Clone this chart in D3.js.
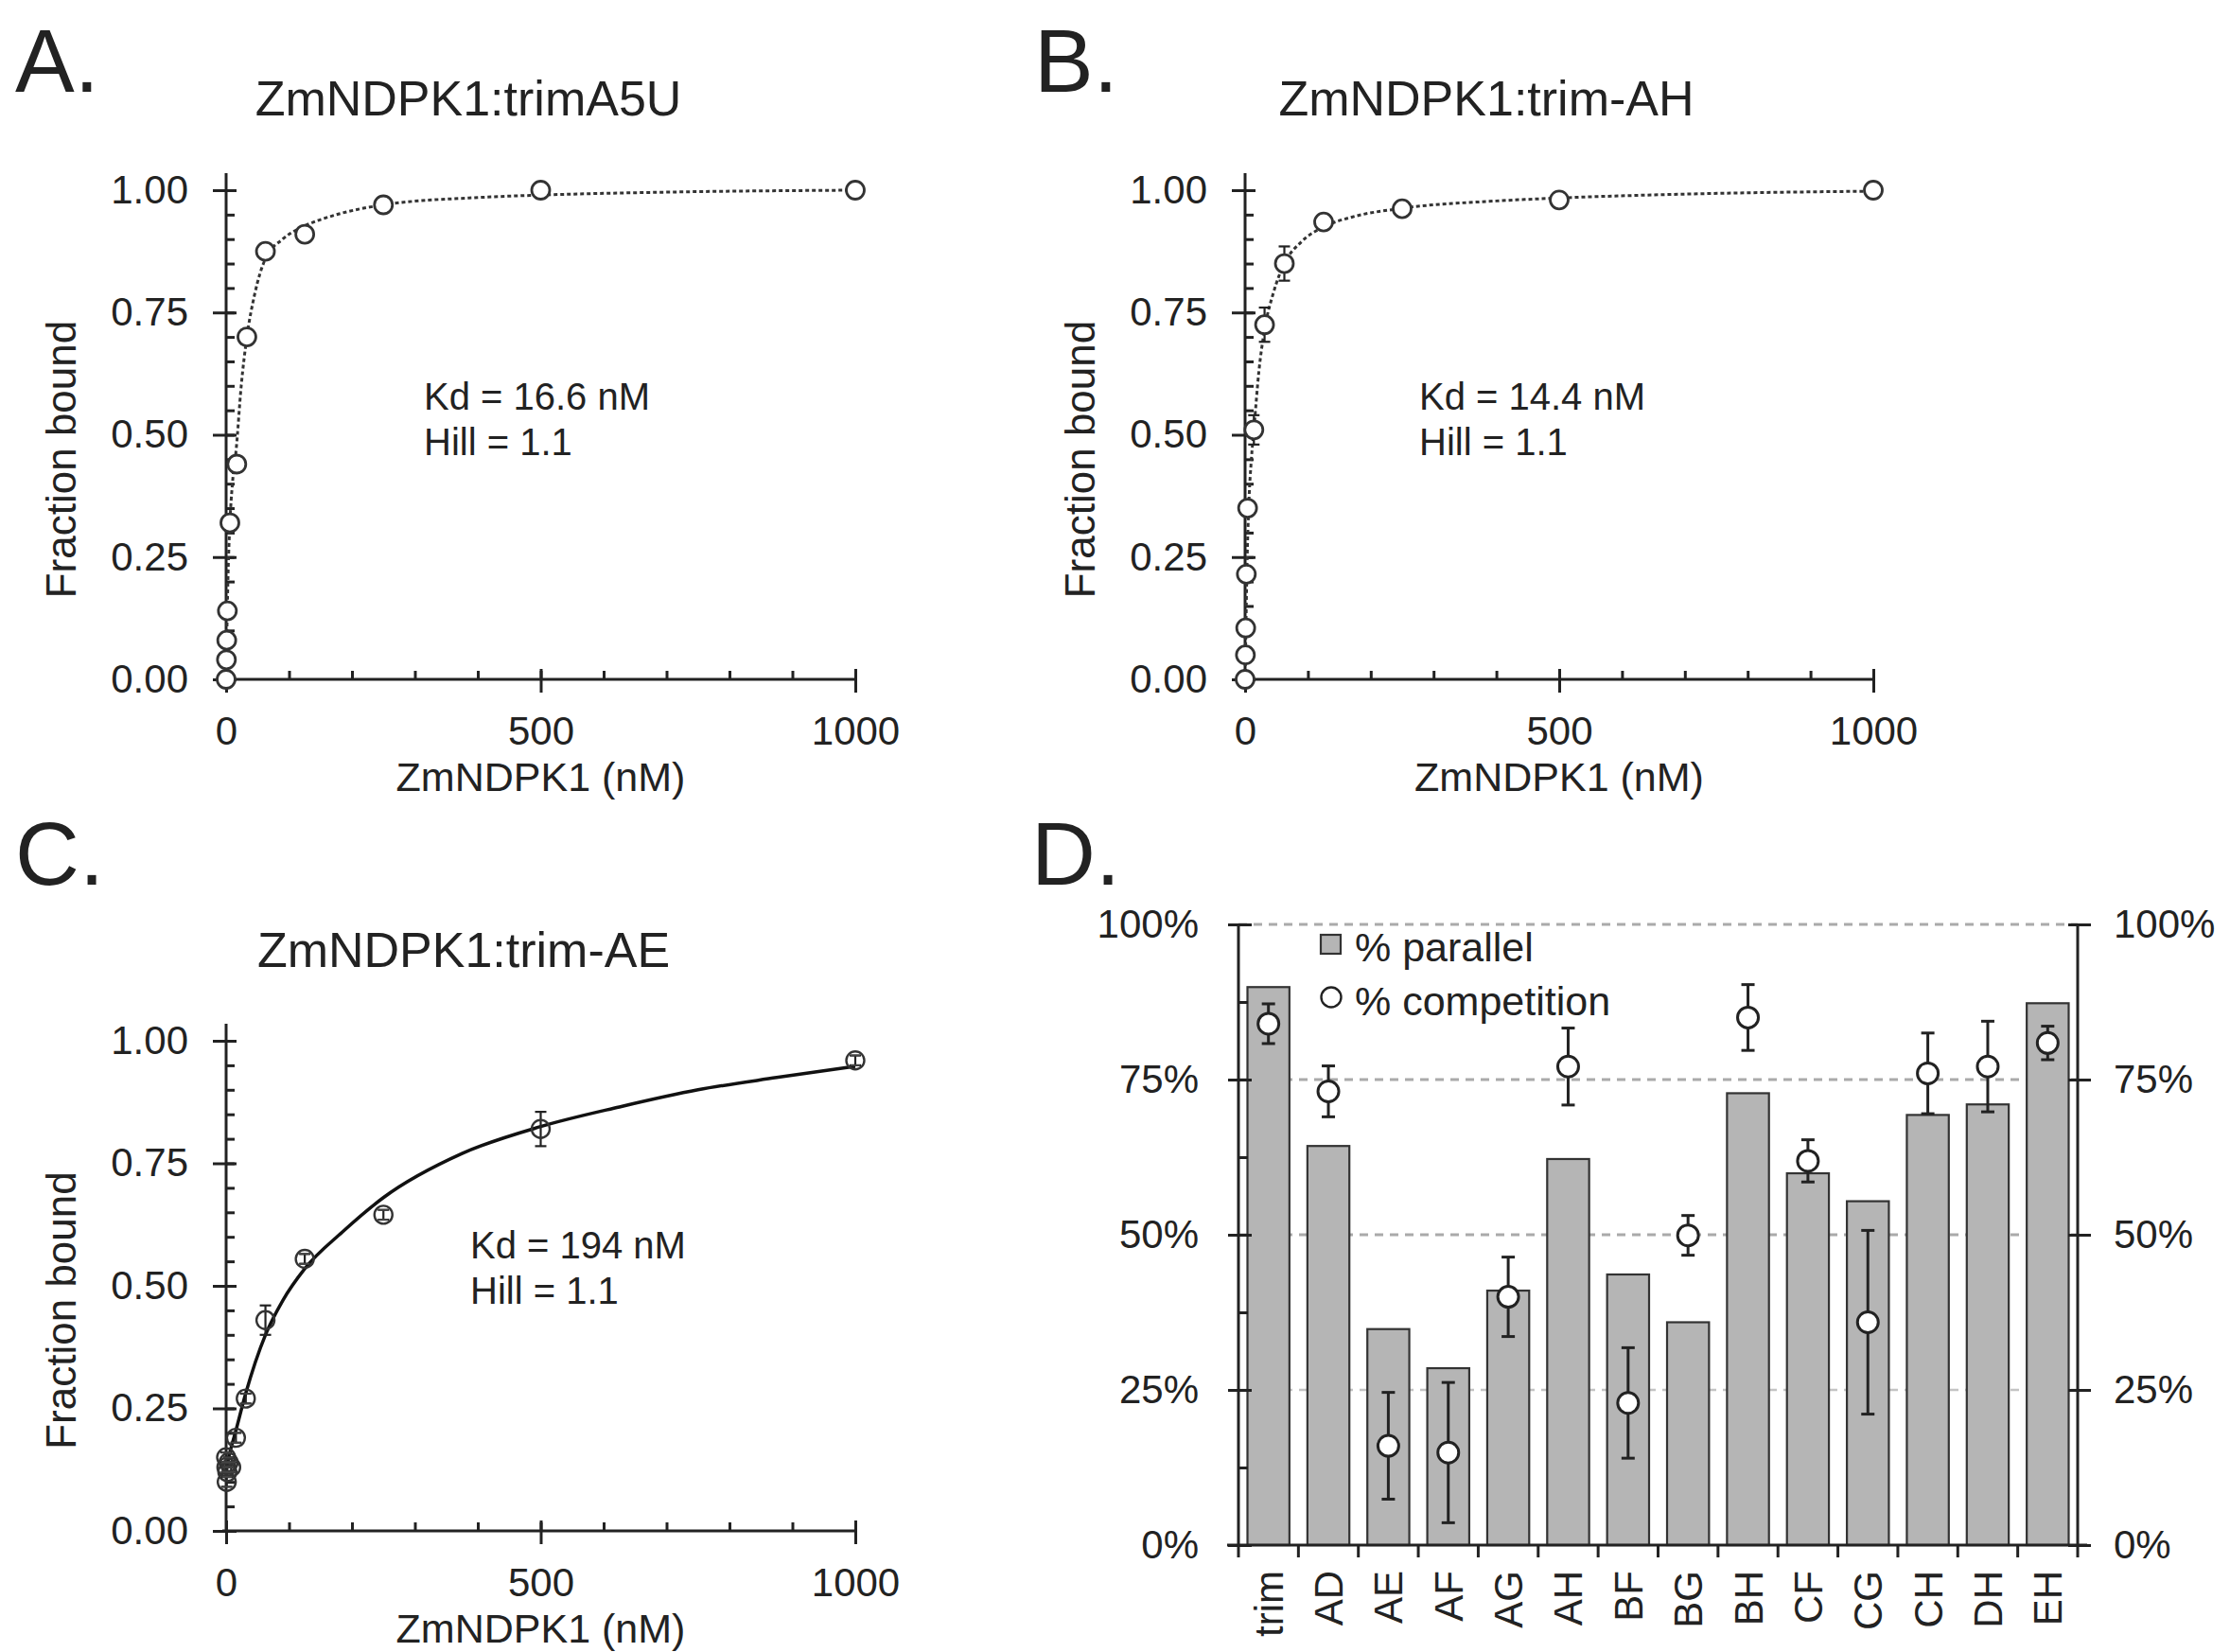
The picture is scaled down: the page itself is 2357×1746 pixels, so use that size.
<!DOCTYPE html>
<html><head><meta charset="utf-8">
<script src="https://cdn.jsdelivr.net/npm/d3@7"></script>
<style>
body{margin:0;background:#fff}
svg text{font-family:"Liberation Sans",Arial,Helvetica,sans-serif;fill:#222}
</style>
</head><body>
<svg id="chart" width="2357" height="1746"></svg>
<script>
// ---------- DATA ----------
const bindTicks = [0, 0.25, 0.5, 0.75, 1.0];
const concTicks = [0, 500, 1000];

// Panel A: ZmNDPK1:trimA5U
const concA = [0, 0.5, 1, 2, 6, 17, 33, 62.5, 125, 250, 500, 1000];
const boundA = [0, 0.04, 0.08, 0.14, 0.32, 0.44, 0.70, 0.875, 0.91, 0.97, 1.0, 1.0];
const errA = [0, 0, 0, 0, 0, 0, 0, 0, 0, 0, 0, 0];
const fitA_x = [0, 1, 3, 6, 10, 16, 24, 33, 45, 62.5, 90, 125, 170, 250, 400, 500, 700, 1000];
const fitA_y = [0, 0.08, 0.21, 0.32, 0.40, 0.47, 0.60, 0.70, 0.785, 0.86, 0.90, 0.927, 0.948, 0.97, 0.985, 0.99, 0.996, 1.0];

// Panel B: ZmNDPK1:trim-AH
const concB = [0, 0.5, 1, 2, 4, 14, 31, 62.5, 125, 250, 500, 1000];
const boundB = [0, 0.05, 0.105, 0.215, 0.35, 0.51, 0.725, 0.85, 0.935, 0.962, 0.98, 1.0];
const errB = [0, 0, 0, 0, 0, 0.03, 0.035, 0.035, 0.01, 0, 0.005, 0];
const fitB_x = [0, 1, 3, 6, 10, 14, 22, 31, 45, 62.5, 90, 125, 170, 250, 400, 500, 700, 1000];
const fitB_y = [0, 0.08, 0.23, 0.36, 0.45, 0.51, 0.63, 0.715, 0.79, 0.85, 0.895, 0.925, 0.945, 0.963, 0.978, 0.984, 0.992, 0.998];

// Panel C: ZmNDPK1:trim-AE
const concC = [0, 0.5, 1, 2, 4, 8, 15.6, 31.25, 62.5, 125, 250, 500, 1000];
const boundC = [0.15, 0.13, 0.10, 0.12, 0.14, 0.13, 0.19, 0.27, 0.43, 0.555, 0.645, 0.82, 0.96];
const errC = [0.01, 0.01, 0.01, 0.01, 0.01, 0.01, 0.01, 0.01, 0.03, 0.01, 0.01, 0.035, 0.01];
const fitC_x = [0, 5, 15.6, 31, 62.5, 90, 125, 185, 250, 375, 500, 625, 750, 875, 1000];
const fitC_y = [0.125, 0.155, 0.205, 0.28, 0.40, 0.47, 0.535, 0.61, 0.68, 0.77, 0.825, 0.865, 0.90, 0.925, 0.948];

// Panel D
const constructs = ["trim", "AD", "AE", "AF", "AG", "AH", "BF", "BG", "BH", "CF", "CG", "CH", "DH", "EH"];
const pctParallel = [89.9, 64.3, 34.8, 28.5, 41.0, 62.2, 43.6, 35.9, 72.8, 59.9, 55.4, 69.3, 71.0, 87.3];
const pctCompetition = [84.0, 73.1, 16.0, 14.9, 40.0, 77.1, 22.9, 49.9, 85.0, 61.9, 35.9, 76.0, 77.1, 80.9];
const errCompetition = [3.2, 4.1, 8.6, 11.3, 6.4, 6.2, 8.9, 3.2, 5.3, 3.4, 14.8, 6.5, 7.3, 2.7];
const pctTicks = [0, 25, 50, 75, 100];

// ---------- DRAWING ----------
const svg = d3.select("#chart");
svg.append("rect").attr("width", 2357).attr("height", 1746).attr("fill", "#fff");
const INK = "#222";
const FONT = '"Liberation Sans",Arial,Helvetica,sans-serif';

function styleAxis(sel, fs) {
  sel.attr("font-family", FONT).attr("font-size", fs);
  sel.selectAll("line").attr("stroke", INK).attr("stroke-width", 3);
  sel.selectAll("path.domain").attr("stroke", INK).attr("stroke-width", 3).attr("fill", "none");
  sel.selectAll("text").attr("fill", INK);
}

function bindingPanel(cfg) {
  const g = svg.append("g");
  const x = d3.scaleLinear().domain([0, 1000]).range([cfg.x0, cfg.x1]);
  const y = d3.scaleLinear().domain([0, 1]).range([cfg.y0, cfg.y1]);

  // minor y ticks (inward)
  const yMin = g.append("g").attr("transform", `translate(${x(0)},0)`)
    .call(d3.axisRight(y).tickValues(d3.range(0, 1.0001, 0.05)).tickSize(9).tickFormat(""));
  yMin.select(".domain").remove();
  styleAxis(yMin, 42);
  // minor x ticks (inward, up)
  const xMin = g.append("g").attr("transform", `translate(0,${y(0)})`)
    .call(d3.axisTop(x).tickValues(d3.range(100, 1000, 100)).tickSize(9).tickFormat(""));
  xMin.select(".domain").remove();
  styleAxis(xMin, 42);

  // major y axis
  const ya = g.append("g").attr("transform", `translate(${x(0)},0)`)
    .call(d3.axisLeft(y).tickValues(bindTicks).tickSize(14).tickPadding(26).tickFormat(d3.format(".2f")));
  ya.select(".domain").attr("d", `M0,${y(0)}V${y(1) - 18}`);
  ya.selectAll(".tick line").attr("x1", 11);
  styleAxis(ya, 42);

  // major x axis
  const xa = g.append("g").attr("transform", `translate(0,${y(0)})`)
    .call(d3.axisBottom(x).tickValues(concTicks).tickSize(14).tickPadding(25).tickFormat(d3.format("d")));
  xa.select(".domain").attr("d", `M${x(0) - 4},0H${x(1000)}`);
  xa.selectAll(".tick line").attr("y1", -11);
  styleAxis(xa, 42);

  // axis titles
  g.append("text").attr("x", x(500)).attr("y", cfg.y0 + 118).attr("text-anchor", "middle")
    .attr("font-size", 43).text("ZmNDPK1 (nM)");
  g.append("text").attr("transform", `translate(${x(0) - 159},${(cfg.y0 + cfg.y1) / 2 + 26}) rotate(-90)`)
    .attr("text-anchor", "middle").attr("font-size", 44).text("Fraction bound");
  // title and panel letter
  g.append("text").attr("x", cfg.titleX).attr("y", cfg.titleY).attr("text-anchor", "middle")
    .attr("font-size", 52).text(cfg.title);
  g.append("text").attr("x", cfg.letterX).attr("y", cfg.letterY).attr("font-size", 94).text(cfg.letter);
  // Kd / Hill annotation
  g.append("text").attr("x", cfg.kdX).attr("y", cfg.kdY).attr("font-size", 40).text(cfg.kd);
  g.append("text").attr("x", cfg.kdX).attr("y", cfg.kdY + 48).attr("font-size", 40).text(cfg.hill);

  // fit curve
  const line = d3.line().x(d => x(d[0])).y(d => y(d[1])).curve(d3.curveMonotoneX);
  const path = g.append("path").datum(d3.zip(cfg.fitX, cfg.fitY)).attr("d", line)
    .attr("fill", "none").attr("stroke", cfg.solid ? "#111" : "#333")
    .attr("stroke-width", cfg.solid ? 3.5 : 3);
  if (!cfg.solid) path.attr("stroke-dasharray", "4,3");

  // points
  const pts = d3.range(cfg.cx.length).map(i => ({ c: cfg.cx[i], v: cfg.vy[i], e: cfg.err[i] }));
  const eb = g.append("g").selectAll("g").data(pts.filter(d => d.e > 0)).join("g");
  eb.append("line").attr("x1", d => x(d.c)).attr("x2", d => x(d.c))
    .attr("y1", d => y(d.v - d.e)).attr("y2", d => y(d.v + d.e)).attr("stroke", INK).attr("stroke-width", 2.2);
  [-1, 1].forEach(s => eb.append("line").attr("x1", d => x(d.c) - 6).attr("x2", d => x(d.c) + 6)
    .attr("y1", d => y(d.v + s * d.e)).attr("y2", d => y(d.v + s * d.e)).attr("stroke", INK).attr("stroke-width", 2.2));
  g.append("g").selectAll("circle").data(pts).join("circle")
    .attr("cx", d => x(d.c)).attr("cy", d => y(d.v)).attr("r", cfg.r)
    .attr("fill", cfg.solid ? "none" : "#fff").attr("stroke", "#333").attr("stroke-width", cfg.solid ? 2.4 : 2.8);
  if (cfg.solid) {
    // C markers: small error bars sit inside the circle
    const eb2 = g.append("g").selectAll("g").data(pts.filter(d => d.e > 0 && d.e < 0.02)).join("g");
    [-1, 1].forEach(s => eb2.append("line").attr("x1", d => x(d.c) - 5).attr("x2", d => x(d.c) + 5)
      .attr("y1", d => y(d.v + s * d.e)).attr("y2", d => y(d.v + s * d.e)).attr("stroke", "#444").attr("stroke-width", 1.8));
  }
}

bindingPanel({
  x0: 239, x1: 904, y0: 718, y1: 201, title: "ZmNDPK1:trimA5U", titleX: 495, titleY: 122,
  letter: "A.", letterX: 16, letterY: 97, kd: "Kd = 16.6 nM", hill: "Hill = 1.1", kdX: 448, kdY: 433,
  cx: concA, vy: boundA, err: errA, fitX: fitA_x, fitY: fitA_y, solid: false, r: 9.5
});
bindingPanel({
  x0: 1316, x1: 1980, y0: 718, y1: 201, title: "ZmNDPK1:trim-AH", titleX: 1571, titleY: 122,
  letter: "B.", letterX: 1093, letterY: 97, kd: "Kd = 14.4 nM", hill: "Hill = 1.1", kdX: 1500, kdY: 433,
  cx: concB, vy: boundB, err: errB, fitX: fitB_x, fitY: fitB_y, solid: false, r: 9.5
});
bindingPanel({
  x0: 239, x1: 904, y0: 1618, y1: 1100, title: "ZmNDPK1:trim-AE", titleX: 490, titleY: 1022,
  letter: "C.", letterX: 16, letterY: 935, kd: "Kd = 194 nM", hill: "Hill = 1.1", kdX: 497, kdY: 1330,
  cx: concC, vy: boundC, err: errC, fitX: fitC_x, fitY: fitC_y, solid: true, r: 9.5
});

// ---------- Panel D ----------
(function () {
  const g = svg.append("g");
  const xL = 1309, xR = 2196, yB = 1633, yT = 977;
  const x = d3.scaleBand().domain(constructs).range([xL, xR]).paddingInner(0.3).paddingOuter(0.15);
  const xb = d3.scaleBand().domain(constructs).range([xL, xR]);
  const y = d3.scaleLinear().domain([0, 100]).range([yB, yT]);

  // dashed gridlines
  g.append("g").selectAll("line").data(pctTicks.slice(1)).join("line")
    .attr("x1", xL).attr("x2", xR).attr("y1", d => y(d)).attr("y2", d => y(d))
    .attr("stroke", d => d === 25 ? "#c4c4c4" : "#aaa").attr("stroke-width", d => d === 25 ? 2.4 : 3)
    .attr("stroke-dasharray", "9,7");

  // bars
  const data = constructs.map((c, i) => ({ c, p: pctParallel[i], m: pctCompetition[i], e: errCompetition[i] }));
  g.append("g").selectAll("rect").data(data).join("rect")
    .attr("x", d => x(d.c)).attr("width", x.bandwidth())
    .attr("y", d => y(d.p)).attr("height", d => y(0) - y(d.p))
    .attr("fill", "#b5b5b5").attr("stroke", "#333").attr("stroke-width", 2.2);

  // left axis minor ticks
  const lm = g.append("g").attr("transform", `translate(${xL},0)`)
    .call(d3.axisRight(y).tickValues([12.5, 37.5, 62.5, 87.5]).tickSize(10).tickFormat(""));
  lm.select(".domain").remove();
  styleAxis(lm, 42);
  // left axis
  const la = g.append("g").attr("transform", `translate(${xL},0)`)
    .call(d3.axisLeft(y).tickValues(pctTicks).tickSize(11).tickPadding(31).tickFormat(d => d + "%"));
  la.selectAll(".tick line").attr("x1", 14);
  la.select(".domain").attr("d", `M0,${yB}V${yT}`);
  styleAxis(la, 42);
  // right axis
  const ra = g.append("g").attr("transform", `translate(${xR},0)`)
    .call(d3.axisRight(y).tickValues(pctTicks).tickSize(14).tickPadding(24).tickFormat(d => d + "%"));
  ra.selectAll(".tick line").attr("x1", -10);
  ra.select(".domain").attr("d", `M0,${yB}V${yT}`);
  styleAxis(ra, 42);
  // bottom axis: ticks at band boundaries
  const bounds = constructs.map(c => xb(c)).concat([xR]);
  g.append("line").attr("x1", xL - 12).attr("x2", xR + 10).attr("y1", yB).attr("y2", yB)
    .attr("stroke", INK).attr("stroke-width", 3);
  g.append("g").selectAll("line").data(bounds).join("line")
    .attr("x1", d => d).attr("x2", d => d).attr("y1", yB).attr("y2", yB + 13)
    .attr("stroke", INK).attr("stroke-width", 3);
  g.append("g").selectAll("text").data(constructs).join("text")
    .attr("transform", d => `translate(${xb(d) + xb.bandwidth() / 2 + 15},${yB + 27}) rotate(-90)`)
    .attr("text-anchor", "end").attr("font-size", 42).text(d => d);

  // competition error bars + points
  const eb = g.append("g").selectAll("g").data(data).join("g");
  const cxp = d => xb(d.c) + xb.bandwidth() / 2;
  eb.append("line").attr("x1", cxp).attr("x2", cxp).attr("y1", d => y(d.m - d.e)).attr("y2", d => y(d.m + d.e))
    .attr("stroke", INK).attr("stroke-width", 3);
  [-1, 1].forEach(s => eb.append("line").attr("x1", d => cxp(d) - 7).attr("x2", d => cxp(d) + 7)
    .attr("y1", d => y(d.m + s * d.e)).attr("y2", d => y(d.m + s * d.e)).attr("stroke", INK).attr("stroke-width", 3));
  g.append("g").selectAll("circle").data(data).join("circle")
    .attr("cx", cxp).attr("cy", d => y(d.m)).attr("r", 11)
    .attr("fill", "#fff").attr("stroke", INK).attr("stroke-width", 3);

  // legend
  g.append("rect").attr("x", 1396).attr("y", 988).attr("width", 21).attr("height", 20)
    .attr("fill", "#b5b5b5").attr("stroke", "#333").attr("stroke-width", 2.2);
  g.append("text").attr("x", 1432).attr("y", 1016).attr("font-size", 43).text("% parallel");
  g.append("circle").attr("cx", 1407).attr("cy", 1054).attr("r", 10.5)
    .attr("fill", "#fff").attr("stroke", INK).attr("stroke-width", 2.4);
  g.append("text").attr("x", 1432).attr("y", 1073).attr("font-size", 43).text("% competition");

  g.append("text").attr("x", 1090).attr("y", 935).attr("font-size", 94).text("D.");
})();
</script>
</body></html>
